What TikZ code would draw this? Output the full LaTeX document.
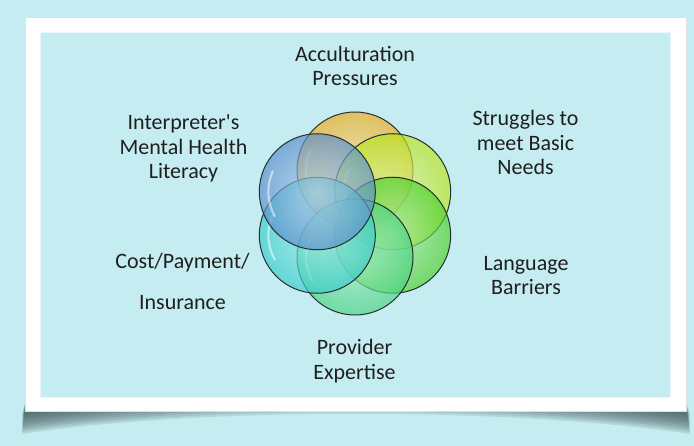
\documentclass[tikz,border=0pt]{standalone}
\usepackage{fontspec}
\setmainfont{Carlito}

\definecolor{panelcyan}{HTML}{C5ECF1}
\definecolor{shadowgray}{HTML}{44585A}
\definecolor{ringline}{HTML}{26302F}
\definecolor{accorange}{HTML}{EEAE1E}
\definecolor{needsyellow}{HTML}{B8E41C}
\definecolor{langgreen}{HTML}{4CD02C}
\definecolor{provgreen}{HTML}{48D482}
\definecolor{costcyan}{HTML}{36CCCC}
\definecolor{literblue}{HTML}{5A8FCC}

\tikzset{
  bubble/.style={circle, minimum size=116pt, inner sep=0pt,
    draw=ringline, line width=1pt,
    inner color=#1!45, outer color=#1, fill opacity=0.68,
    path picture={
      \draw[white, line width=2.2pt, opacity=0.5, line cap=round]
        (path picture bounding box.center) ++(205:49) arc[start angle=205, end angle=150, radius=49];
    }},
  caption/.style={align=center, inner sep=0pt, anchor=base,
    text=black!88, font=\fontsize{22}{24.5}\selectfont},
}

\begin{document}
\begin{tikzpicture}[x=1pt, y=-1pt]
    \useasboundingbox (0,0) rectangle (694,446);
    \fill[panelcyan] (0,0) rectangle (694,446);

    % curled shadow under the card, built up from thin layers
    \foreach \d in {3,5,...,23}
        \fill[shadowgray, opacity=0.14]
            (26,400) -- (22,411+\d) .. controls (200,411+\d-27) and (510,411+\d-27) .. (690,411+\d)
            -- (685,400) -- cycle;

    % white card and inner panel
    \fill[white, draw=black!12, line width=0.6pt] (25,17) rectangle (686,411);
    \fill[panelcyan, draw=white!60!panelcyan, line width=0.6pt] (40,32) rectangle (670,397);

    % six overlapping circles around (355,213.5)
    \node[bubble=accorange]   (pressures) at (355,170)      {};
    \node[bubble=needsyellow] (needs)     at (392.7,191.75) {};
    \node[bubble=langgreen]   (language)  at (392.7,235.25) {};
    \node[bubble=provgreen]   (expertise) at (355,257)      {};
    \node[bubble=costcyan]    (payment)   at (317.3,235.25) {};
    \node[bubble=literblue]   (literacy)  at (317.3,191.75) {};

    % labels, placed by the baseline of their last line
    \node[caption] (accLabel)    at (355,86)      {Acculturation\\Pressures};
    \node[caption] (needsLabel)  at (525.5,175)   {Struggles to\\meet Basic\\Needs};
    \node[caption] (langLabel)   at (526,295)     {Language\\Barriers};
    \node[caption] (provLabel)   at (354.5,379.3) {Provider\\Expertise};
    \node[caption] (costLabel)   at (182.5,309.3) {Cost/Payment/\\[16pt]Insurance};
    \node[caption] (interpLabel) at (183.5,179)   {Interpreter\textquotesingle s\\Mental Health\\Literacy};
\end{tikzpicture}
\end{document}
